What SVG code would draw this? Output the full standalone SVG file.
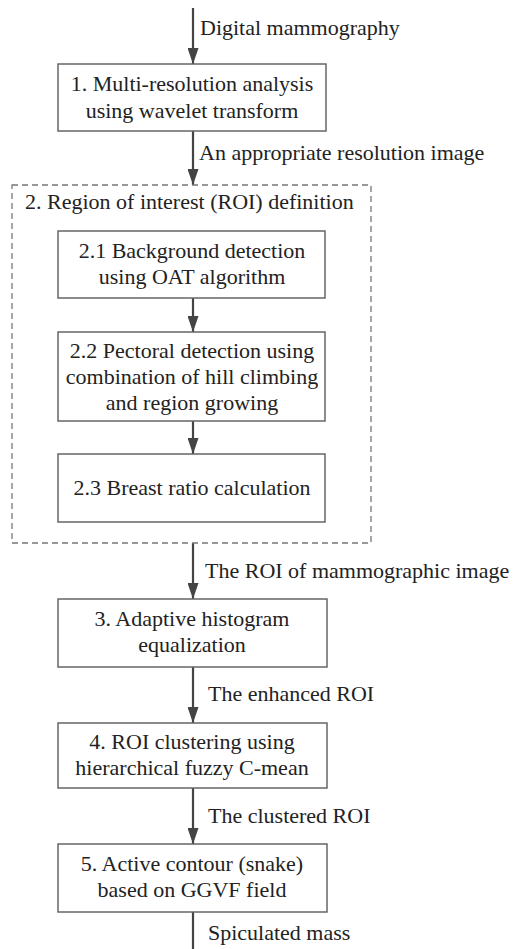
<svg xmlns="http://www.w3.org/2000/svg" width="517" height="949" viewBox="0 0 517 949">
<defs>
<marker id="ah" markerWidth="16" markerHeight="11" refX="16" refY="5.5" orient="auto" markerUnits="userSpaceOnUse" viewBox="0 0 16 11">
<path d="M0,0 L16,5.5 L0,11 Z" fill="#444"/>
</marker>
<style>
.box{fill:#fff;stroke:#666;stroke-width:1.5}
.dash{fill:none;stroke:#777;stroke-width:1.3;stroke-dasharray:6,4}
.t{font-size:22px;fill:#222}
.c{text-anchor:middle}
.ln{stroke:#444;stroke-width:2.2;fill:none}
</style>
</defs>
<rect width="517" height="949" fill="#fff"/>
<g font-family="Liberation Serif, Times New Roman, DejaVu Serif, serif">
<g id="connectors">
<line class="ln" x1="193" y1="8" x2="193" y2="64" marker-end="url(#ah)"/>
<line class="ln" x1="193" y1="131" x2="193" y2="185" marker-end="url(#ah)"/>
<line class="ln" x1="193" y1="298" x2="193" y2="332" marker-end="url(#ah)"/>
<line class="ln" x1="193" y1="421" x2="193" y2="454" marker-end="url(#ah)"/>
<line class="ln" x1="193" y1="543" x2="193" y2="599" marker-end="url(#ah)"/>
<line class="ln" x1="193" y1="667" x2="193" y2="723" marker-end="url(#ah)"/>
<line class="ln" x1="193" y1="788" x2="193" y2="844" marker-end="url(#ah)"/>
<line class="ln" x1="193" y1="912" x2="193" y2="949"/>
<text class="t" x="200" y="35">Digital mammography</text>
<text class="t" x="199" y="160">An appropriate resolution image</text>
<text class="t" x="205" y="578">The ROI of mammographic image</text>
<text class="t" x="208" y="701">The enhanced ROI</text>
<text class="t" x="208" y="823">The clustered ROI</text>
<text class="t" x="208" y="940">Spiculated mass</text>
</g>
<g id="n1">
<rect class="box" x="58" y="64" width="268" height="67"/>
<text class="t c" x="192" y="91">1. Multi-resolution analysis</text>
<text class="t c" x="192" y="118">using wavelet transform</text>
</g>
<g id="n2">
<rect class="dash" x="12" y="185" width="359" height="358"/>
<text class="t" x="25" y="209">2. Region of interest (ROI) definition</text>
</g>
<g id="n2_1">
<rect class="box" x="58" y="231" width="267" height="67"/>
<text class="t c" x="192" y="258">2.1 Background detection</text>
<text class="t c" x="192" y="284">using OAT algorithm</text>
</g>
<g id="n2_2">
<rect class="box" x="58" y="332" width="267" height="89"/>
<text class="t c" x="192" y="358">2.2 Pectoral detection using</text>
<text class="t c" x="192" y="384">combination of hill climbing</text>
<text class="t c" x="192" y="410">and region growing</text>
</g>
<g id="n2_3">
<rect class="box" x="58" y="454" width="267" height="68"/>
<text class="t c" x="192" y="495">2.3 Breast ratio calculation</text>
</g>
<g id="n3">
<rect class="box" x="58" y="599" width="269" height="68"/>
<text class="t c" x="192" y="626">3. Adaptive histogram</text>
<text class="t c" x="192" y="652">equalization</text>
</g>
<g id="n4">
<rect class="box" x="58" y="723" width="269" height="65"/>
<text class="t c" x="192" y="749">4. ROI clustering using</text>
<text class="t c" x="192" y="775">hierarchical fuzzy C-mean</text>
</g>
<g id="n5">
<rect class="box" x="58" y="844" width="269" height="68"/>
<text class="t c" x="192" y="871">5. Active contour (snake)</text>
<text class="t c" x="192" y="897">based on GGVF field</text>
</g>
</g>
</svg>
